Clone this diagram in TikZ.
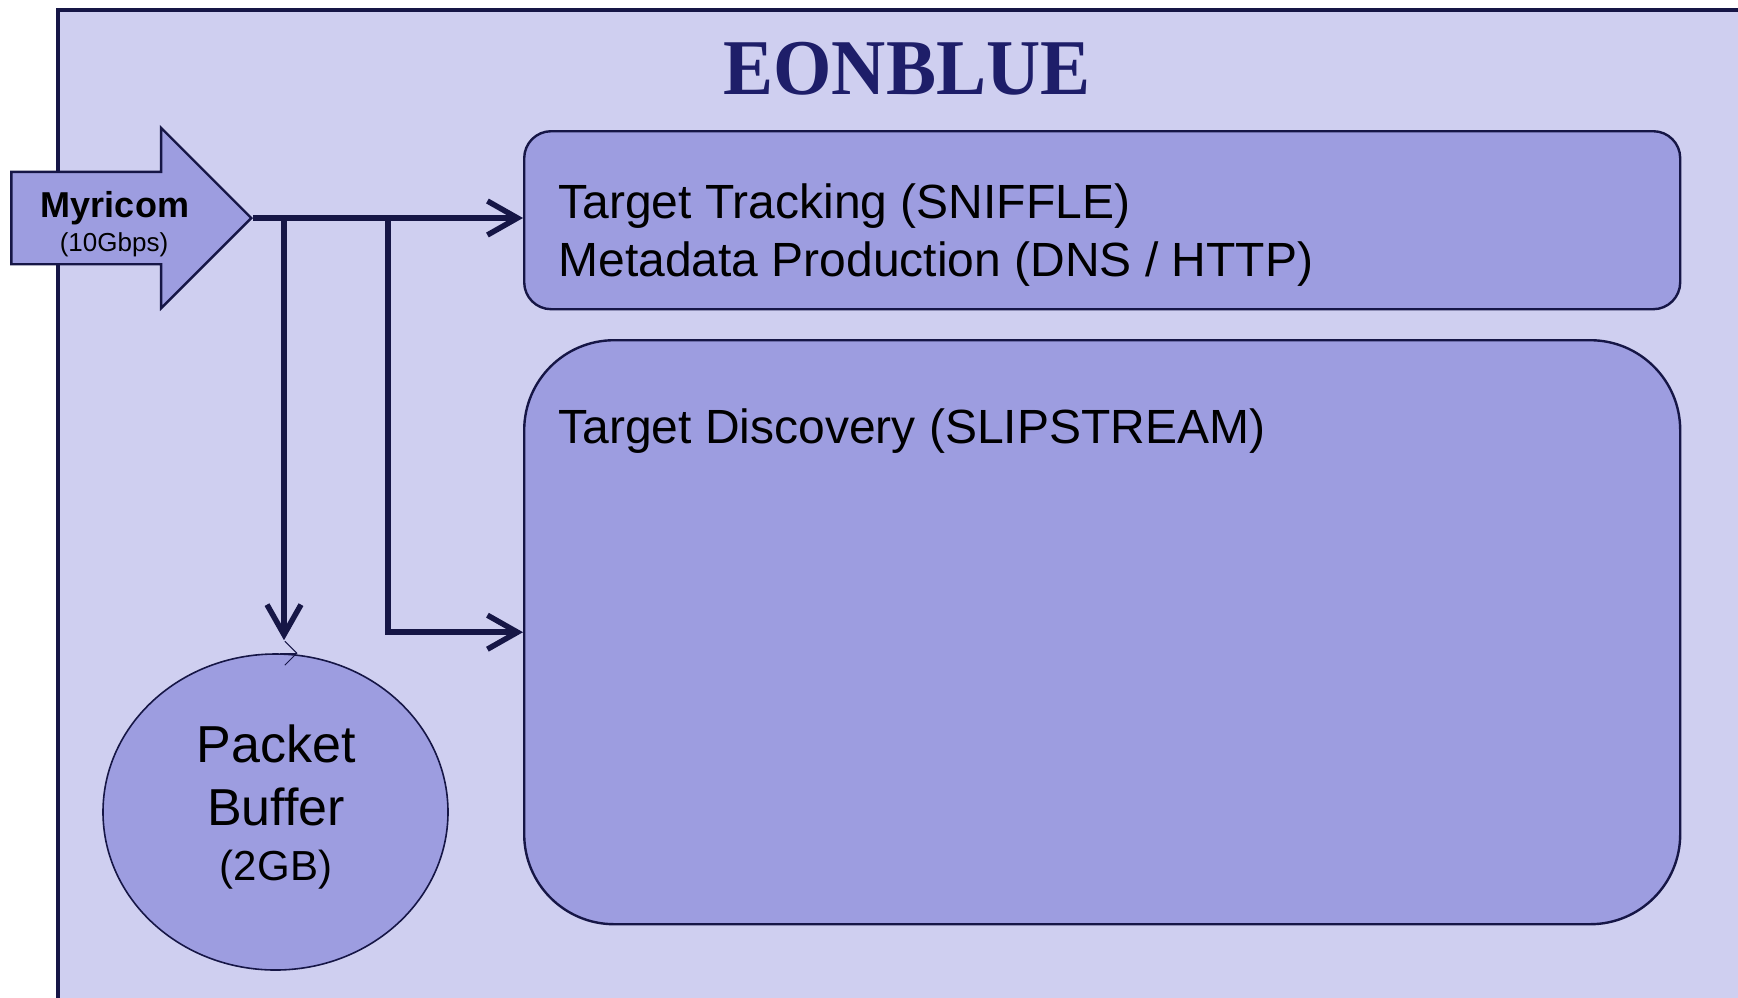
\documentclass[tikz,border=0pt]{standalone}
\usepackage{fontspec}
\setmainfont{Liberation Sans}
\newfontfamily\titlefont{Liberation Serif}
\usetikzlibrary{positioning,shapes.geometric,shapes.arrows,arrows.meta}

\definecolor{eonframe}{RGB}{207,207,240}
\definecolor{eonbox}{RGB}{157,157,224}
\definecolor{eonline}{RGB}{22,22,70}
\definecolor{eontitle}{RGB}{30,30,105}

\begin{document}
\begin{tikzpicture}[x=0.5pt,y=-0.5pt,
  module/.style={draw=eonline, line width=1.2pt, fill=eonbox, inner sep=0pt},
  flow/.style={draw=eonline, line width=2.75pt, -{Straight Barb[length=15pt,width=17pt]}},
  boxtext/.style={anchor=base west, inner sep=0pt, font=\fontsize{24}{29}\selectfont}]
\useasboundingbox (0,0) rectangle (1738,997);
\clip (0,0) rectangle (1738,997);
% Frame
\fill[white] (0,0) rectangle (1738,997);
\draw[eonline, line width=2pt, fill=eonframe] (58,10) rectangle (1770,1030);
\node[anchor=base, inner sep=0pt, xscale=0.95, text=eontitle,
  font=\titlefont\bfseries\fontsize{39.5}{45}\selectfont] (title) at (907,94) {EONBLUE};
% Modules
\node[module, rounded corners=13.5pt, minimum width=578pt, minimum height=89pt,
  anchor=north west] (tracking) at (523,130) {};
\node[module, rounded corners=45pt, minimum width=578pt, minimum height=292pt,
  anchor=north west] (discovery) at (523,339) {};
\node[boxtext] (trackingtext) at (558,218) {Target Tracking (SNIFFLE)};
\node[boxtext] (metadatatext) at (558,276) {Metadata Production (DNS / HTTP)};
\node[boxtext] (discoverytext) at (558,443) {Target Discovery (SLIPSTREAM)};
% Packet buffer
\node[module, ellipse, line width=0.8pt, minimum width=172.5pt, minimum height=158pt]
  (buffer) at (275.5,812) {};
\node[align=center, inner sep=0pt, font=\fontsize{26}{31.5}\selectfont]
  (buffertext) at (276,807) {Packet\\Buffer\\[-4pt]{\fontsize{21}{26}\selectfont (2GB)}};
\draw[eonline, line width=0.5pt, -{Straight Barb[length=6pt,width=12pt]}]
  ([xshift=2pt]buffer.north) -- ([xshift=11pt]buffer.north);
% Myricom input
\node[module, shape=single arrow, inner xsep=0pt, inner ysep=22.5pt,
  minimum height=120pt, minimum width=89pt,
  single arrow head extend=22pt, single arrow tip angle=90, anchor=tip]
  (myricom) at (253,218) {};
\node[anchor=base, inner sep=0pt, font=\bfseries\fontsize{18}{22}\selectfont]
  (myricomlabel) at (115,217) {Myricom};
\node[anchor=base, inner sep=0pt, font=\fontsize{13}{16}\selectfont]
  (ratelabel) at (114,251) {(10Gbps)};
% Connectors
\coordinate (tapA) at (284,218);
\coordinate (tapB) at (388,218);
\draw[flow] (myricom.tip) -- (myricom.tip -| tracking.west);
\draw[flow] (tapA) -- ([xshift=4.25pt,yshift=6.5pt]buffer.north);
\draw[flow] (tapB) |- (discovery.west);
\end{tikzpicture}
\end{document}
